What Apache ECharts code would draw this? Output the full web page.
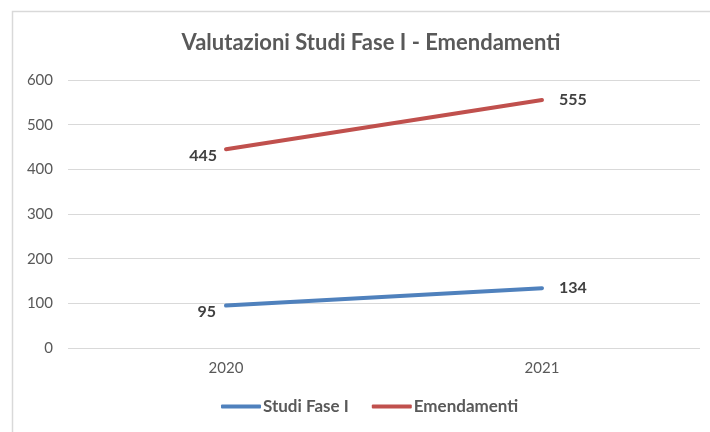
<!DOCTYPE html>
<html>
<head>
<meta charset="utf-8">
<script src="https://cdn.jsdelivr.net/npm/echarts@6/dist/echarts.min.js"></script>
<style>
  html, body { margin: 0; padding: 0; background: #fff; }
  #chart { width: 710px; height: 432px; }
</style>
</head>
<body>
<div id="chart"></div>
<script>
// dati
var anni = ['2020', '2021'];
var studiFaseI = [95, 134];
var emendamenti = [445, 555];
var yTicks = [0, 100, 200, 300, 400, 500, 600];

var testo = '#595959';
var font = 'Lato';

// etichette: primo punto a sinistra-sotto, secondo a destra
function punti(valori, off0, off1) {
    return valori.map(function (v, i) {
        return {
            value: v,
            label: i === 0
                ? { position: 'left', offset: off0 }
                : { position: 'right', offset: off1 }
        };
    });
}

var myChart = echarts.init(document.getElementById('chart'));
myChart.setOption({
    animation: false,
    textStyle: { fontFamily: font },
    title: {
        text: 'Valutazioni Studi Fase I - Emendamenti',
        left: 366,
        top: 27,
        textAlign: 'center',
        textStyle: { color: testo, fontSize: 22, fontWeight: 'bold', fontFamily: font }
    },
    graphic: [{
        type: 'rect',
        shape: { x: 12.5, y: 11.5, width: 720, height: 440 },
        style: { fill: 'none', stroke: '#d9d9d9', lineWidth: 1.5 },
        silent: true
    }],
    legend: {
        bottom: 12,
        left: 216,
        itemWidth: 40,
        itemHeight: 4,
        itemGap: 23,
        icon: 'roundRect',
        textStyle: { color: testo, fontSize: 17, fontWeight: 'bold', padding: [0, 0, 0, -3] },
        data: ['Studi Fase I', 'Emendamenti']
    },
    grid: { left: 68, right: 10, top: 80, bottom: 84 },
    xAxis: {
        type: 'category',
        data: anni,
        axisLine: { show: false },
        axisTick: { show: false },
        axisLabel: { color: testo, fontSize: 15, margin: 13 }
    },
    yAxis: {
        type: 'value',
        min: yTicks[0],
        max: yTicks[yTicks.length - 1],
        interval: 100,
        axisLine: { show: false },
        axisTick: { show: false },
        axisLabel: { color: testo, fontSize: 15, margin: 15 },
        splitLine: { lineStyle: { color: '#d9d9d9', width: 1 } }
    },
    series: [
        {
            name: 'Studi Fase I',
            type: 'line',
            data: punti(studiFaseI, [-5, 6], [12, 0]),
            symbol: 'circle',
            symbolSize: 0,
            lineStyle: { color: '#4F81BD', width: 4, cap: 'round' },
            itemStyle: { color: '#4F81BD' },
            label: { show: true, color: '#404040', fontSize: 16, fontWeight: 'bold' }
        },
        {
            name: 'Emendamenti',
            type: 'line',
            data: punti(emendamenti, [-4, 7], [12, 0]),
            symbol: 'circle',
            symbolSize: 0,
            lineStyle: { color: '#C0504D', width: 4, cap: 'round' },
            itemStyle: { color: '#C0504D' },
            label: { show: true, color: '#404040', fontSize: 16, fontWeight: 'bold' }
        }
    ]
});
</script>
</body>
</html>
